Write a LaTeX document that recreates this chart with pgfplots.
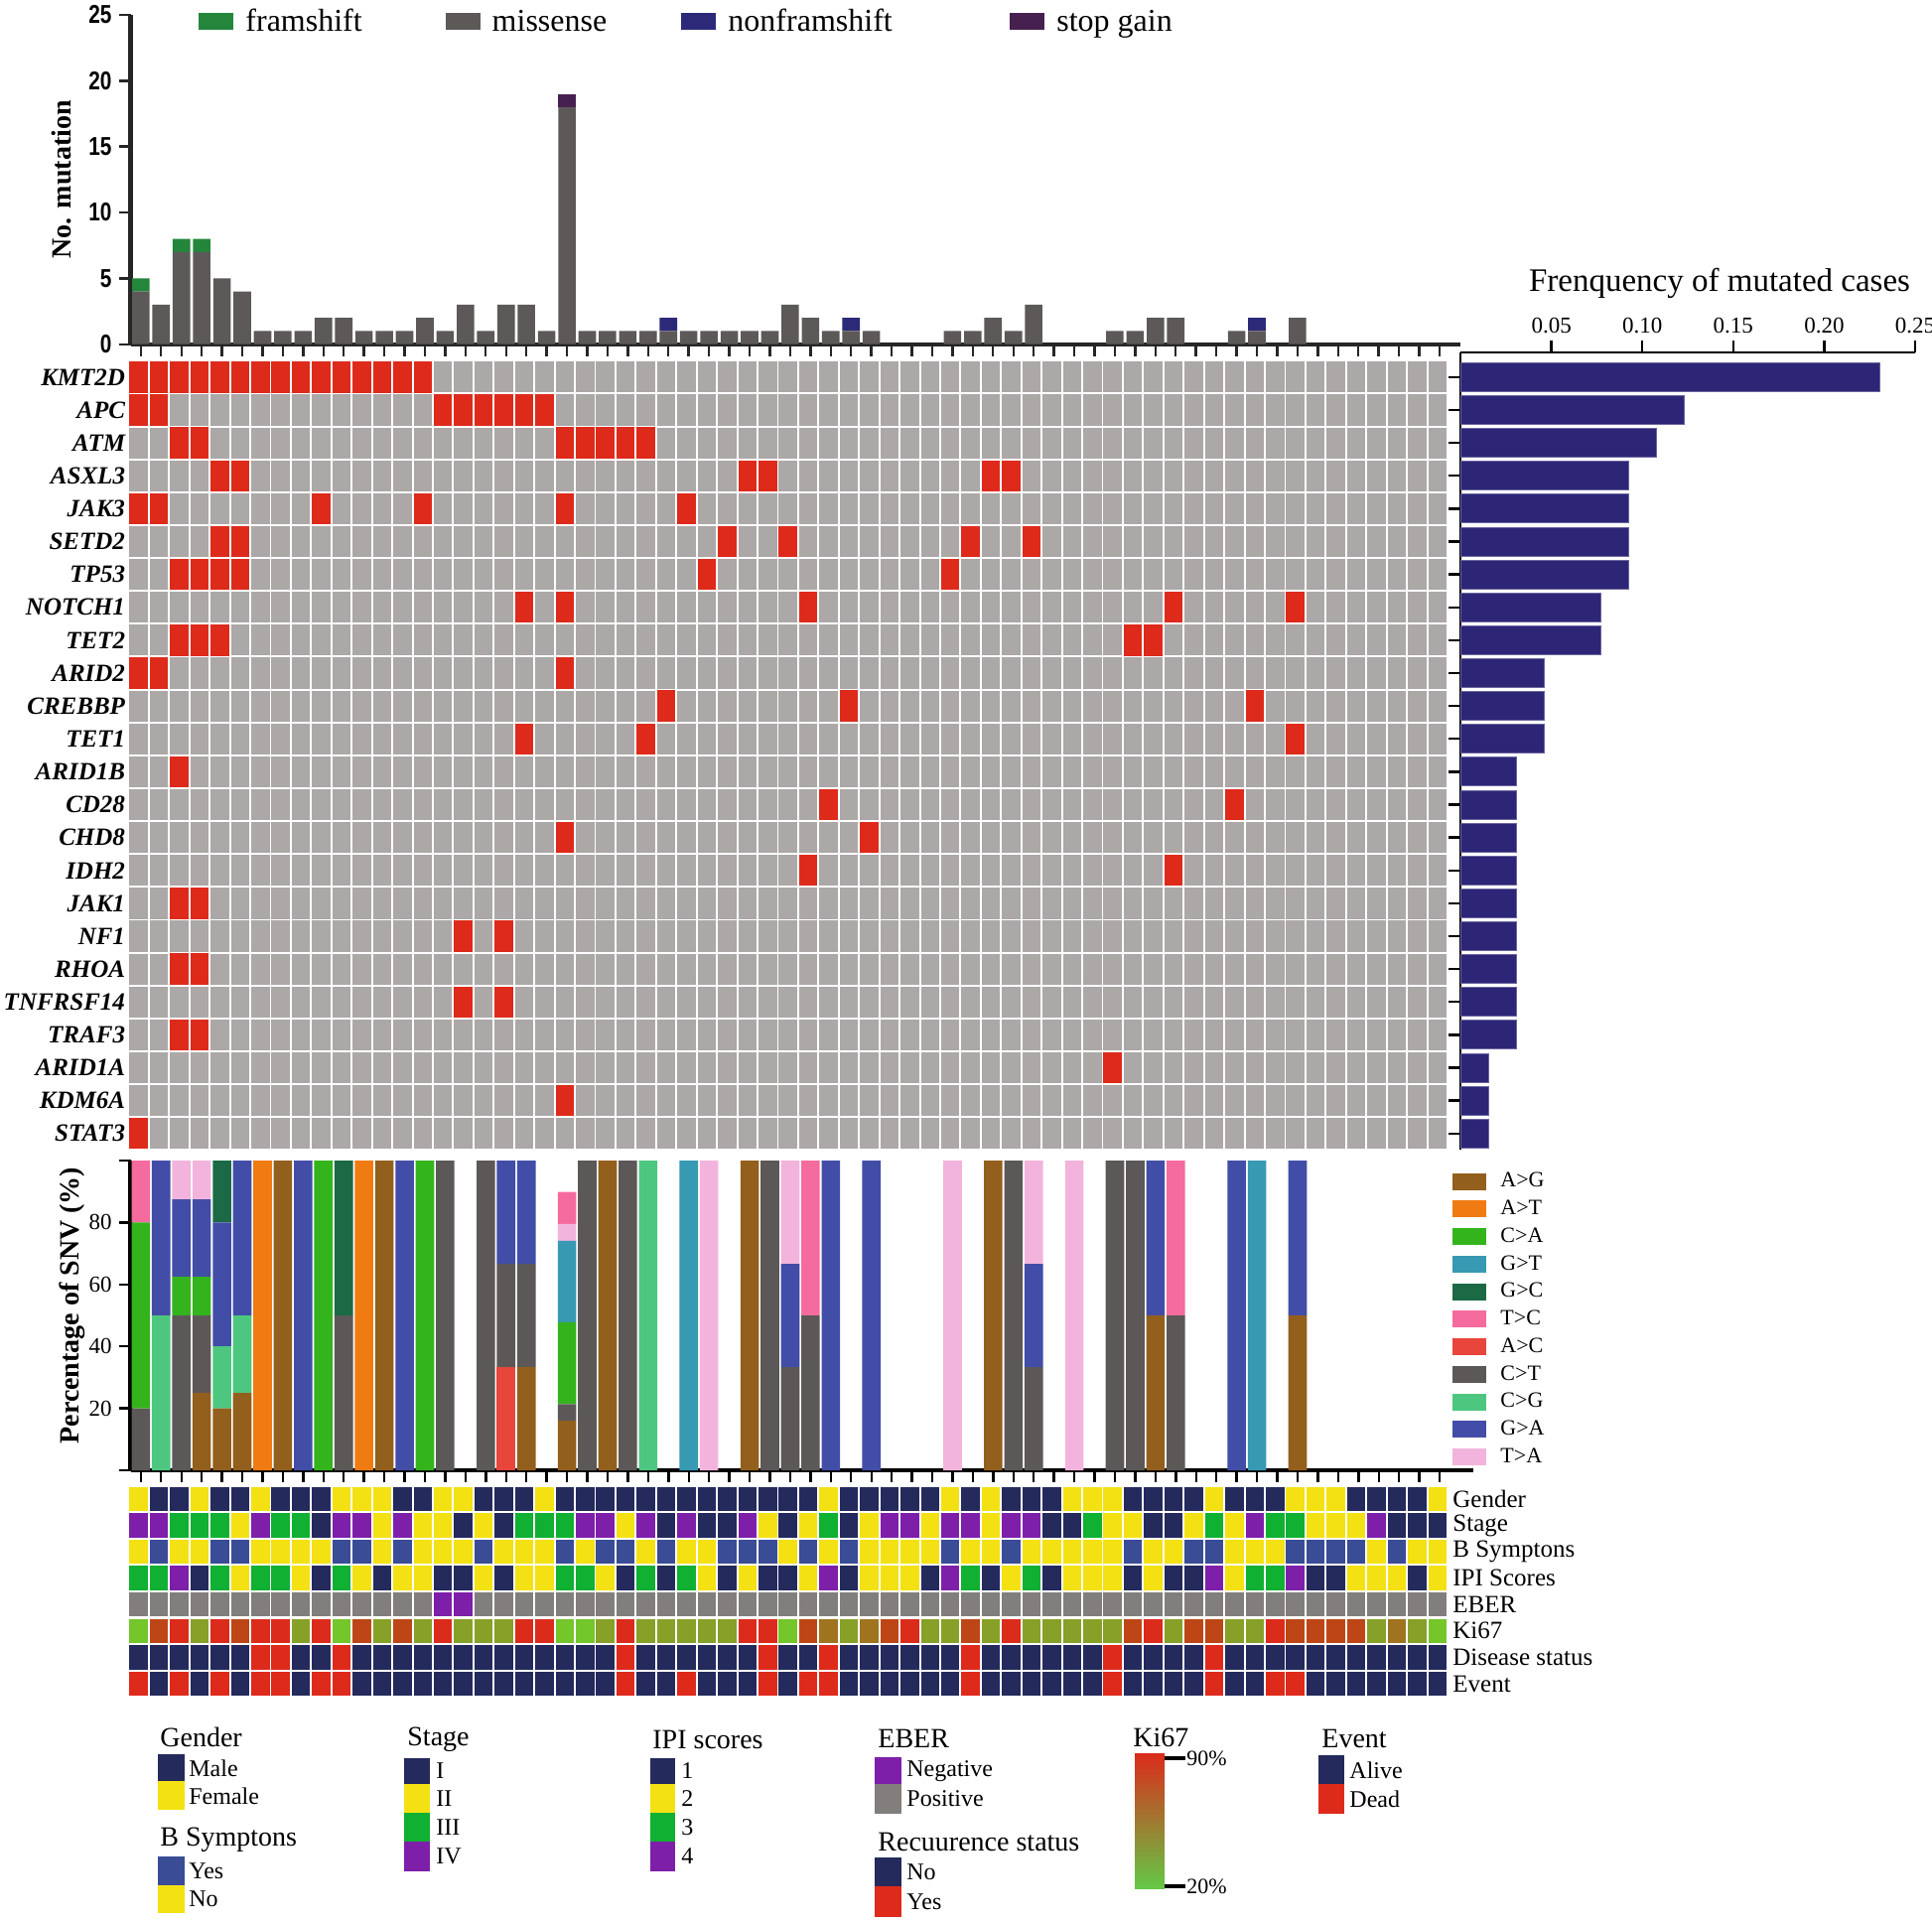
\documentclass[border=0pt]{standalone}
\usepackage{fontspec}
\setmainfont{Liberation Serif}
\setsansfont{Liberation Sans}
\newfontfamily\narrowsans[FakeStretch=0.8]{Liberation Sans}
\usepackage{pgfplots}
\usepackage{pgfplotstable}
\pgfplotsset{compat=1.18}

\definecolor{cMut}{HTML}{DE2A1B}
\definecolor{cCell}{HTML}{ABA8A7}
\definecolor{cMis}{HTML}{5D5959}
\definecolor{cFs}{HTML}{23863A}
\definecolor{cNfs}{HTML}{2C2A78}
\definecolor{cSg}{HTML}{46204F}
\definecolor{cFreq}{HTML}{2D2677}
\definecolor{cAG}{HTML}{935F1D}
\definecolor{cAT}{HTML}{F07B12}
\definecolor{cCA}{HTML}{34B41C}
\definecolor{cGT}{HTML}{3799B2}
\definecolor{cGC}{HTML}{1B6A45}
\definecolor{cTC}{HTML}{F56B9E}
\definecolor{cAC}{HTML}{E8453B}
\definecolor{cCT}{HTML}{5C5858}
\definecolor{cCG}{HTML}{4DC77F}
\definecolor{cGA}{HTML}{424DA7}
\definecolor{cTA}{HTML}{F2B4DC}
\definecolor{tNv}{HTML}{242A5C}
\definecolor{tYl}{HTML}{F4E113}
\definecolor{tGr}{HTML}{10B032}
\definecolor{tPu}{HTML}{7E1FAA}
\definecolor{tBl}{HTML}{3A4C96}
\definecolor{tGy}{HTML}{827E7D}
\definecolor{tRd}{HTML}{DE2A1B}
\definecolor{kG}{HTML}{74C62B}
\definecolor{kO}{HTML}{87A028}
\definecolor{kC}{HTML}{A0741F}
\definecolor{kR}{HTML}{BE4616}
\definecolor{kD}{HTML}{DB2B1B}

\pgfdeclareplotmark{mcell}{\pgfpathrectangle{\pgfpoint{-4.625pt}{-7.85pt}}{\pgfpoint{9.25pt}{15.7pt}}\pgfusepath{fill}}
\pgfdeclareplotmark{tcell}{\pgfpathrectangle{\pgfpoint{-4.625pt}{-6.1pt}}{\pgfpoint{9.25pt}{12.2pt}}\pgfusepath{fill}}

\pgfplotsset{
  sqleg/.style={legend image code/.code={\fill[##1,draw=none] (0pt,-4.25pt) rectangle (17.5pt,4.25pt);}},
  snvleg/.style={legend image code/.code={\fill[##1,draw=none] (0pt,-4.25pt) rectangle (17pt,4.25pt);}},
  trk/.style={only marks, scatter, scatter src=explicit symbolic,
    scatter/classes={nv={mark=tcell,tNv}, yl={mark=tcell,tYl}, gr={mark=tcell,tGr},
      pu={mark=tcell,tPu}, bl={mark=tcell,tBl}, gy={mark=tcell,tGy}, rd={mark=tcell,tRd},
      kg={mark=tcell,kG}, ko={mark=tcell,kO}, kc={mark=tcell,kC}, kr={mark=tcell,kR}, kd={mark=tcell,kD}}},
}

\pgfplotstableread{
c mis fs nfs sg
1 4 1 0 0
2 3 0 0 0
3 7 1 0 0
4 7 1 0 0
5 5 0 0 0
6 4 0 0 0
7 1 0 0 0
8 1 0 0 0
9 1 0 0 0
10 2 0 0 0
11 2 0 0 0
12 1 0 0 0
13 1 0 0 0
14 1 0 0 0
15 2 0 0 0
16 1 0 0 0
17 3 0 0 0
18 1 0 0 0
19 3 0 0 0
20 3 0 0 0
21 1 0 0 0
22 18 0 0 1
23 1 0 0 0
24 1 0 0 0
25 1 0 0 0
26 1 0 0 0
27 1 0 1 0
28 1 0 0 0
29 1 0 0 0
30 1 0 0 0
31 1 0 0 0
32 1 0 0 0
33 3 0 0 0
34 2 0 0 0
35 1 0 0 0
36 1 0 1 0
37 1 0 0 0
38 0 0 0 0
39 0 0 0 0
40 0 0 0 0
41 1 0 0 0
42 1 0 0 0
43 2 0 0 0
44 1 0 0 0
45 3 0 0 0
46 0 0 0 0
47 0 0 0 0
48 0 0 0 0
49 1 0 0 0
50 1 0 0 0
51 2 0 0 0
52 2 0 0 0
53 0 0 0 0
54 0 0 0 0
55 1 0 0 0
56 1 0 1 0
57 0 0 0 0
58 2 0 0 0
59 0 0 0 0
60 0 0 0 0
61 0 0 0 0
62 0 0 0 0
63 0 0 0 0
64 0 0 0 0
65 0 0 0 0
}\topbars

\pgfplotstableread{
c AG AC AT CT CG CA GT GA GC TA TC
1 0 0 0 20 0 60 0 0 0 0 20
2 0 0 0 0 50 0 0 50 0 0 0
3 0 0 0 50 0 12.5 0 25 0 12.5 0
4 25 0 0 25 0 12.5 0 25 0 12.5 0
5 20 0 0 0 20 0 0 40 20 0 0
6 25 0 0 0 25 0 0 50 0 0 0
7 0 0 100 0 0 0 0 0 0 0 0
8 100 0 0 0 0 0 0 0 0 0 0
9 0 0 0 0 0 0 0 100 0 0 0
10 0 0 0 0 0 100 0 0 0 0 0
11 0 0 0 50 0 0 0 0 50 0 0
12 0 0 100 0 0 0 0 0 0 0 0
13 100 0 0 0 0 0 0 0 0 0 0
14 0 0 0 0 0 0 0 100 0 0 0
15 0 0 0 0 0 100 0 0 0 0 0
16 0 0 0 100 0 0 0 0 0 0 0
17 0 0 0 0 0 0 0 0 0 0 0
18 0 0 0 100 0 0 0 0 0 0 0
19 0 33.3 0 33.3 0 0 0 33.4 0 0 0
20 33.3 0 0 33.3 0 0 0 33.4 0 0 0
21 0 0 0 0 0 0 0 0 0 0 0
22 16 0 0 5.4 0 26.4 26.3 0 0 5.4 10.4
23 0 0 0 100 0 0 0 0 0 0 0
24 100 0 0 0 0 0 0 0 0 0 0
25 0 0 0 100 0 0 0 0 0 0 0
26 0 0 0 0 100 0 0 0 0 0 0
27 0 0 0 0 0 0 0 0 0 0 0
28 0 0 0 0 0 0 100 0 0 0 0
29 0 0 0 0 0 0 0 0 0 100 0
30 0 0 0 0 0 0 0 0 0 0 0
31 100 0 0 0 0 0 0 0 0 0 0
32 0 0 0 100 0 0 0 0 0 0 0
33 0 0 0 33.3 0 0 0 33.3 0 33.4 0
34 0 0 0 50 0 0 0 0 0 0 50
35 0 0 0 0 0 0 0 100 0 0 0
36 0 0 0 0 0 0 0 0 0 0 0
37 0 0 0 0 0 0 0 100 0 0 0
38 0 0 0 0 0 0 0 0 0 0 0
39 0 0 0 0 0 0 0 0 0 0 0
40 0 0 0 0 0 0 0 0 0 0 0
41 0 0 0 0 0 0 0 0 0 100 0
42 0 0 0 0 0 0 0 0 0 0 0
43 100 0 0 0 0 0 0 0 0 0 0
44 0 0 0 100 0 0 0 0 0 0 0
45 0 0 0 33.3 0 0 0 33.3 0 33.4 0
46 0 0 0 0 0 0 0 0 0 0 0
47 0 0 0 0 0 0 0 0 0 100 0
48 0 0 0 0 0 0 0 0 0 0 0
49 0 0 0 100 0 0 0 0 0 0 0
50 0 0 0 100 0 0 0 0 0 0 0
51 50 0 0 0 0 0 0 50 0 0 0
52 0 0 0 50 0 0 0 0 0 0 50
53 0 0 0 0 0 0 0 0 0 0 0
54 0 0 0 0 0 0 0 0 0 0 0
55 0 0 0 0 0 0 0 100 0 0 0
56 0 0 0 0 0 0 100 0 0 0 0
57 0 0 0 0 0 0 0 0 0 0 0
58 50 0 0 0 0 0 0 50 0 0 0
59 0 0 0 0 0 0 0 0 0 0 0
60 0 0 0 0 0 0 0 0 0 0 0
61 0 0 0 0 0 0 0 0 0 0 0
62 0 0 0 0 0 0 0 0 0 0 0
63 0 0 0 0 0 0 0 0 0 0 0
64 0 0 0 0 0 0 0 0 0 0 0
65 0 0 0 0 0 0 0 0 0 0 0
}\snv

\pgfplotstableread{
c g s b i e k d v
1 yl pu yl gr gy kg nv rd
2 nv pu bl gr gy kr nv nv
3 nv gr yl pu gy kd nv rd
4 yl gr yl nv gy ko nv nv
5 nv gr bl gr gy kd nv rd
6 nv yl bl yl gy kr nv nv
7 yl pu yl gr gy kd rd rd
8 nv gr yl gr gy kd rd rd
9 nv gr yl yl gy ko nv nv
10 nv nv yl nv gy kd nv rd
11 yl pu bl gr gy kg rd rd
12 yl pu bl yl gy kr nv nv
13 yl yl yl nv gy ko nv nv
14 nv pu bl yl gy kr nv nv
15 nv yl yl yl gy ko nv nv
16 yl yl yl nv pu kd nv nv
17 yl nv yl nv pu ko nv nv
18 nv yl bl yl gy ko nv nv
19 nv nv yl nv gy ko nv nv
20 nv gr yl yl gy kd nv nv
21 yl gr yl yl gy kd nv nv
22 nv gr bl gr gy kg nv nv
23 nv pu yl gr gy kg nv nv
24 nv pu bl yl gy ko nv nv
25 nv yl bl nv gy kd rd rd
26 nv pu yl gr gy ko nv nv
27 nv nv bl nv gy ko nv nv
28 nv pu yl gr gy ko nv rd
29 nv nv yl yl gy ko nv nv
30 nv nv bl nv gy ko nv nv
31 nv pu bl yl gy kd nv nv
32 nv yl bl nv gy kd rd rd
33 nv nv yl nv gy kg nv nv
34 nv yl bl yl gy kr nv rd
35 yl gr yl pu gy kc rd rd
36 nv nv bl nv gy ko nv nv
37 nv yl yl yl gy kc nv nv
38 nv pu yl yl gy kr nv nv
39 nv pu yl yl gy kd nv nv
40 nv yl yl nv gy ko nv nv
41 yl pu bl pu gy ko nv nv
42 nv pu yl gr gy kr rd rd
43 yl yl yl nv gy ko nv nv
44 nv pu bl yl gy kd nv nv
45 nv pu yl gr gy ko nv nv
46 nv nv yl nv gy ko nv nv
47 yl nv yl yl gy ko nv nv
48 yl gr yl yl gy ko nv nv
49 yl yl yl yl gy ko rd rd
50 nv yl bl nv gy kr nv nv
51 nv nv yl yl gy kd nv nv
52 nv nv yl nv gy ko nv nv
53 nv yl bl nv gy kr nv nv
54 yl gr bl pu gy kr rd rd
55 nv yl yl yl gy ko nv nv
56 nv pu yl gr gy ko nv nv
57 nv gr yl gr gy kd nv rd
58 yl gr bl pu gy kr nv rd
59 yl yl bl nv gy kr nv nv
60 yl yl bl nv gy kr nv nv
61 nv yl bl yl gy kr nv nv
62 nv pu yl yl gy ko nv nv
63 nv nv bl yl gy kc nv nv
64 nv nv yl nv gy ko nv nv
65 yl nv yl yl gy kg nv nv
}\trk

\begin{document}
\begin{tikzpicture}
\useasboundingbox (0pt,0pt) rectangle (973pt,-966.5pt);

% ---------- top bar chart ----------
\begin{axis}[
  at={(65.8pt,-173.35pt)}, anchor=south west,
  scale only axis, width=669.7pt, height=165.85pt,
  xmin=0.5, xmax=66.03, ymin=0, ymax=25,
  ybar stacked, bar width=8.8pt,
  axis x line*=bottom, axis y line*=left,
  axis line style={line width=2.2pt, color=black!85},
  tick align=outside, major tick length=6pt,
  tick style={line width=1.2pt, color=black!85},
  xtick={1,...,65}, xticklabels={},
  ytick={0,5,...,25},
  /pgf/number format/assume math mode=true,
  yticklabel style={font=\narrowsans\bfseries\fontsize{13}{13}\selectfont},
  ylabel={No. mutation},
  ylabel style={font=\bfseries\fontsize{14}{14}\selectfont, at={(axis description cs:-0.052,0.5)}, anchor=center},
  legend columns=4,
  legend style={at={(axis description cs:0.0511,0.979)}, anchor=west, draw=none, fill=none, inner sep=0pt,
    font=\fontsize{16}{16}\selectfont,
    /tikz/every odd column/.append style={column sep=4pt},
    /tikz/every even column/.append style={column sep=35.6pt}},
]
\addplot[forget plot, fill=cMis, draw=none] table[x=c,y=mis]{\topbars};
\addplot[forget plot, fill=cFs, draw=none] table[x=c,y=fs]{\topbars};
\addplot[forget plot, fill=cNfs, draw=none] table[x=c,y=nfs]{\topbars};
\addplot[forget plot, fill=cSg, draw=none] table[x=c,y=sg]{\topbars};
\addlegendimage{sqleg, fill=cFs}\addlegendentry{framshift\rule{4.4pt}{0pt}}
\addlegendimage{sqleg, fill=cMis}\addlegendentry{missense}
\addlegendimage{sqleg, fill=cNfs}\addlegendentry{nonframshift\rule{21.7pt}{0pt}}
\addlegendimage{sqleg, fill=cSg}\addlegendentry{stop gain}
\end{axis}

% ---------- mutation heatmap ----------
\begin{axis}[
  at={(64.7pt,-181.65pt)}, anchor=north west,
  scale only axis, width=664.3pt, height=397.5pt,
  xmin=0.5, xmax=65.5, ymin=0.5, ymax=24.5, y dir=reverse,
  axis background/.style={fill=cCell},
  axis line style={draw=none},
  xtick={0.5,1.5,...,65.5}, xticklabels={},
  xmajorgrids=true,
  ytick={1,...,24},
  yticklabels={KMT2D,APC,ATM,ASXL3,JAK3,SETD2,TP53,NOTCH1,TET2,ARID2,CREBBP,TET1,ARID1B,CD28,CHD8,IDH2,JAK1,NF1,RHOA,TNFRSF14,TRAF3,ARID1A,KDM6A,STAT3},
  minor ytick={0.5,1.5,...,24.5},
  yminorgrids=true,
  major grid style={white, line width=0.95pt},
  minor grid style={white, line width=0.95pt},
  major tick length=0pt, minor tick length=0pt,
  tick style={draw=none},
  yticklabel style={font=\bfseries\itshape\fontsize{12.5}{12.5}\selectfont, anchor=east, inner sep=0pt, xshift=-1.5pt},
]
\addplot[only marks, mark=mcell, color=cMut] coordinates {
(1,1)(2,1)(3,1)(4,1)(5,1)(6,1)(7,1)(8,1)(9,1)(10,1)(11,1)(12,1)(13,1)(14,1)(15,1)
(1,2)(2,2)(16,2)(17,2)(18,2)(19,2)(20,2)(21,2)
(3,3)(4,3)(22,3)(23,3)(24,3)(25,3)(26,3)
(5,4)(6,4)(31,4)(32,4)(43,4)(44,4)
(1,5)(2,5)(10,5)(15,5)(22,5)(28,5)
(5,6)(6,6)(30,6)(33,6)(42,6)(45,6)
(3,7)(4,7)(5,7)(6,7)(29,7)(41,7)
(20,8)(22,8)(34,8)(52,8)(58,8)
(3,9)(4,9)(5,9)(50,9)(51,9)
(1,10)(2,10)(22,10)
(27,11)(36,11)(56,11)
(20,12)(26,12)(58,12)
(3,13)
(35,14)(55,14)
(22,15)(37,15)
(34,16)(52,16)
(3,17)(4,17)
(17,18)(19,18)
(3,19)(4,19)
(17,20)(19,20)
(3,21)(4,21)
(49,22)
(22,23)
(1,24)
};
\end{axis}

% ---------- frequency bars ----------
\begin{axis}[
  at={(735.5pt,-177.5pt)}, anchor=north west,
  scale only axis, width=229pt, height=401.65pt,
  xmin=0, xmax=0.25, ymin=0.5, ymax=24.7506,
  xbar, bar width=14.5pt,
  axis x line*=top, axis y line*=left,
  axis line style={line width=1.4pt, color=black},
  tick align=outside, major tick length=6pt,
  tick style={line width=1.2pt, color=black},
  xtick={0.05,0.1,0.15,0.2,0.25},
  ytick={1,...,24}, yticklabels={},
  /pgf/number format/assume math mode=true,
  xticklabel style={font=\fontsize{11.5}{11.5}\selectfont, /pgf/number format/.cd, fixed, fixed zerofill, precision=2},
]
\addplot[fill=cFreq, draw=cFreq!70!white, line width=0.4pt] coordinates {
(0.2308,24) (0.1231,23) (0.1077,22) (0.0923,21) (0.0923,20) (0.0923,19) (0.0923,18)
(0.0769,17) (0.0769,16) (0.0462,15) (0.0462,14) (0.0462,13) (0.0308,12) (0.0308,11)
(0.0308,10) (0.0308,9) (0.0308,8) (0.0308,7) (0.0308,6) (0.0308,5) (0.0308,4)
(0.0154,3) (0.0154,2) (0.0154,1)
};
\end{axis}
\node[font=\fontsize{16.5}{16.5}\selectfont] at (866pt,-142.5pt) {Frenquency of mutated cases};

% ---------- SNV chart ----------
\begin{axis}[
  at={(65.8pt,-740.5pt)}, anchor=south west,
  scale only axis, width=676.2pt, height=156pt,
  xmin=0.5, xmax=66.66, ymin=0, ymax=100,
  ybar stacked, bar width=9.3pt,
  axis x line*=bottom, axis y line*=left,
  axis line style={line width=2.2pt, color=black},
  tick align=outside, major tick length=6pt,
  tick style={line width=1.2pt, color=black},
  xtick={1,...,65}, xticklabels={},
  ytick={0,20,40,60,80,100}, yticklabels={,20,40,60,80,},
  /pgf/number format/assume math mode=true,
  yticklabel style={font=\fontsize{11.5}{11.5}\selectfont},
  ylabel={Percentage of SNV (\%)},
  ylabel style={font=\bfseries\fontsize{14}{14}\selectfont, at={(axis description cs:-0.0433,0.532)}, anchor=center},
  legend style={at={(axis description cs:0.9845,0.975)}, anchor=north west, draw=none, fill=none, inner sep=0pt,
    font=\fontsize{11}{11}\selectfont, row sep=1.1pt, cells={anchor=west},
    /tikz/every odd column/.append style={column sep=5pt}},
]
\addplot[forget plot, fill=cAG, draw=none] table[x=c,y=AG]{\snv};
\addplot[forget plot, fill=cAC, draw=none] table[x=c,y=AC]{\snv};
\addplot[forget plot, fill=cAT, draw=none] table[x=c,y=AT]{\snv};
\addplot[forget plot, fill=cCT, draw=none] table[x=c,y=CT]{\snv};
\addplot[forget plot, fill=cCG, draw=none] table[x=c,y=CG]{\snv};
\addplot[forget plot, fill=cCA, draw=none] table[x=c,y=CA]{\snv};
\addplot[forget plot, fill=cGT, draw=none] table[x=c,y=GT]{\snv};
\addplot[forget plot, fill=cGA, draw=none] table[x=c,y=GA]{\snv};
\addplot[forget plot, fill=cGC, draw=none] table[x=c,y=GC]{\snv};
\addplot[forget plot, fill=cTA, draw=none] table[x=c,y=TA]{\snv};
\addplot[forget plot, fill=cTC, draw=none] table[x=c,y=TC]{\snv};
\addlegendimage{snvleg, fill=cAG}\addlegendentry{A>G}
\addlegendimage{snvleg, fill=cAT}\addlegendentry{A>T}
\addlegendimage{snvleg, fill=cCA}\addlegendentry{C>A}
\addlegendimage{snvleg, fill=cGT}\addlegendentry{G>T}
\addlegendimage{snvleg, fill=cGC}\addlegendentry{G>C}
\addlegendimage{snvleg, fill=cTC}\addlegendentry{T>C}
\addlegendimage{snvleg, fill=cAC}\addlegendentry{A>C}
\addlegendimage{snvleg, fill=cCT}\addlegendentry{C>T}
\addlegendimage{snvleg, fill=cCG}\addlegendentry{C>G}
\addlegendimage{snvleg, fill=cGA}\addlegendentry{G>A}
\addlegendimage{snvleg, fill=cTA}\addlegendentry{T>A}
\end{axis}

% ---------- clinical tracks ----------
\begin{axis}[
  at={(64.7pt,-748.25pt)}, anchor=north west,
  scale only axis, width=664.3pt, height=106.4pt,
  xmin=0.5, xmax=65.5, ymin=0.5, ymax=8.5, y dir=reverse,
  axis line style={draw=none},
  xtick=\empty, ytick={1,...,8},
  yticklabels={Gender,Stage,B Symptons,IPI Scores,EBER,Ki67,Disease status,Event},
  yticklabel pos=right, major tick length=0pt,
  yticklabel style={font=\fontsize{12.5}{12.5}\selectfont, anchor=west, inner sep=0pt, xshift=2.5pt},
]
\addplot[trk] table[x=c, y expr=1, meta=g]{\trk};
\addplot[trk] table[x=c, y expr=2, meta=s]{\trk};
\addplot[trk] table[x=c, y expr=3, meta=b]{\trk};
\addplot[trk] table[x=c, y expr=4, meta=i]{\trk};
\addplot[trk] table[x=c, y expr=5, meta=e]{\trk};
\addplot[trk] table[x=c, y expr=6, meta=k]{\trk};
\addplot[trk] table[x=c, y expr=7, meta=d]{\trk};
\addplot[trk] table[x=c, y expr=8, meta=v]{\trk};
\end{axis}

% ---------- bottom legends ----------
\begin{scope}[x=0.5pt,y=-0.5pt]
\tikzset{lt/.style={anchor=west, inner sep=0pt, font=\fontsize{14}{14}\selectfont},
         li/.style={anchor=west, inner sep=0pt, font=\fontsize{12}{12}\selectfont}}
% Gender
\node[lt] at (161,1750) {Gender};
\fill[tNv] (159,1767) rectangle (186,1794); \node[li] at (190,1781) {Male};
\fill[tYl] (159,1794) rectangle (186,1823); \node[li] at (190,1809) {Female};
% B Symptons
\node[lt] at (161,1853) {B Symptons};
\fill[tBl] (159,1870) rectangle (186,1899); \node[li] at (190,1885) {Yes};
\fill[tYl] (159,1899) rectangle (186,1927); \node[li] at (190,1913) {No};
% Stage
\node[lt] at (410,1752) {Stage};
\fill[tNv] (407,1771) rectangle (433,1797); \node[li] at (439,1784) {I};
\fill[tYl] (407,1797) rectangle (433,1826); \node[li] at (439,1812) {II};
\fill[tGr] (407,1826) rectangle (433,1855); \node[li] at (439,1841) {III};
\fill[tPu] (407,1855) rectangle (433,1885); \node[li] at (439,1870) {IV};
% IPI scores
\node[lt] at (657,1752) {IPI scores};
\fill[tNv] (655,1771) rectangle (680,1797); \node[li] at (686,1784) {1};
\fill[tYl] (655,1797) rectangle (680,1826); \node[li] at (686,1812) {2};
\fill[tGr] (655,1826) rectangle (680,1855); \node[li] at (686,1841) {3};
\fill[tPu] (655,1855) rectangle (680,1885); \node[li] at (686,1870) {4};
% EBER
\node[lt] at (884,1751) {EBER};
\fill[tPu] (881,1770) rectangle (908,1797); \node[li] at (913,1784) {Negative};
\fill[tGy] (881,1797) rectangle (908,1827); \node[li] at (913,1812) {Positive};
% Recurrence
\node[lt] at (884,1855) {Recuurence status};
\fill[tNv] (881,1871) rectangle (908,1900); \node[li] at (913,1886) {No};
\fill[tRd] (881,1900) rectangle (908,1931); \node[li] at (913,1916) {Yes};
% Ki67
\node[lt] at (1141,1750) {Ki67};
\shade[top color=kD, middle color={rgb,255:red,92;green,82;blue,36}, bottom color={rgb,255:red,100;green,200;blue,70}] (1143,1766) rectangle (1173,1902);
\draw[line width=1.6pt] (1173,1771) -- (1194,1771);
\draw[line width=1.6pt] (1173,1900) -- (1194,1900);
\node[li, font=\fontsize{11}{11}\selectfont] at (1195,1771) {90\%};
\node[li, font=\fontsize{11}{11}\selectfont] at (1195,1900) {20\%};
% Event
\node[lt] at (1331,1751) {Event};
\fill[tNv] (1328,1768) rectangle (1354,1797); \node[li] at (1359,1783) {Alive};
\fill[tRd] (1328,1797) rectangle (1354,1827); \node[li] at (1359,1812) {Dead};
\end{scope}
\end{tikzpicture}
\end{document}
